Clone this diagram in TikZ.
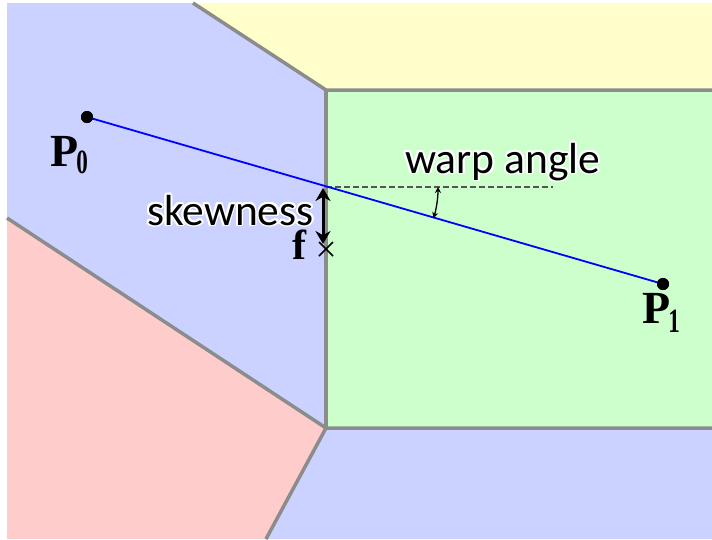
\documentclass[tikz,border=0pt]{standalone}
\usepackage{fontspec}
\setmainfont{Liberation Serif}
\newfontfamily\calib{Carlito}
\usepackage{contour}
\contourlength{1.8pt}
\usetikzlibrary{arrows.meta,calc}
\definecolor{cellblue}{RGB}{203,210,255}
\definecolor{cellyellow}{RGB}{255,255,204}
\definecolor{cellgreen}{RGB}{204,255,204}
\definecolor{cellpink}{RGB}{255,204,204}
\definecolor{edgegray}{RGB}{140,140,140}
\definecolor{dashgray}{RGB}{85,85,85}
\tikzset{
  celledge/.style={draw=edgegray,line width=3.5pt,line join=round},
  dotnode/.style={circle,fill=black,inner sep=0pt,minimum size=12pt},
  seg/.style={blue,line width=1.8pt},
  ptlabel/.style={inner sep=0pt,anchor=base west,font=\fontsize{46}{46}\selectfont\bfseries},
  sanslabel/.style={inner sep=0pt,anchor=base west,font=\calib\fontsize{43.5}{43.5}\selectfont},
  refline/.style={draw=dashgray,line width=1.6pt,dash pattern=on 6pt off 3pt},
  skewarrow/.style={line width=3pt,{Stealth[length=13pt,width=15pt]}-{Stealth[length=13pt,width=15pt]}},
  warparrow/.style={line width=1.3pt,{Stealth[length=6pt,width=6pt]}-{Stealth[length=6pt,width=6pt]}}
}
\begin{document}
\begin{tikzpicture}[x=1pt,y=-1pt]
\useasboundingbox (0,0) rectangle (712,539);
\fill[white] (0,0) rectangle (712,539);
% cell vertices
\coordinate (tl) at (7,3);
\coordinate (t) at (193,3);
\coordinate (tr) at (712,3);
\coordinate (a) at (326,90);
\coordinate (r1) at (712,90);
\coordinate (b) at (326,428);
\coordinate (r2) at (712,428);
\coordinate (l1) at (7,218);
\coordinate (bl) at (7,539);
\coordinate (bb) at (266,539);
\coordinate (br) at (712,539);
% cells
\fill[cellblue] (tl) -- (t) -- (a) -- (b) -- (l1) -- cycle;
\fill[cellyellow] (t) -- (tr) -- (r1) -- (a) -- cycle;
\fill[cellgreen] (a) -- (r1) -- (r2) -- (b) -- cycle;
\fill[cellpink] (l1) -- (b) -- (bb) -- (bl) -- cycle;
\fill[cellblue] (b) -- (r2) -- (br) -- (bb) -- cycle;
% edges
\draw[celledge] (t) -- (a) -- (r1);
\draw[celledge] (a) -- (b);
\draw[celledge] (l1) -- (b) -- (r2);
\draw[celledge] (b) -- (bb);
% reference dashed line
\coordinate (fi) at (326,187);
\coordinate (dashend) at (553,187);
\draw[refline] (fi) -- (dashend);
% segment P0-P1
\node[dotnode] (p0) at (87,117) {};
\node[dotnode] (p1) at (663,284) {};
\draw[seg] (p0.center) -- (p1.center);
\node[dotnode] at (87,117) {};
\node[dotnode] at (663,284) {};
% labels P0, P1
\node[ptlabel] (lp0) at (50,166) {P\kern-2pt\raisebox{-7pt}{\scalebox{0.68}[1]{\fontsize{34}{34}\selectfont 0}}};
\node[ptlabel] (lp1) at (642,323) {P\kern-2pt\raisebox{-9pt}{\scalebox{0.68}[1]{\fontsize{34}{34}\selectfont 1}}};
% face centre f
\coordinate (fc) at (326,249);
\draw[line width=1.6pt] ($(fc)+(-7,-7)$) -- ($(fc)+(7,7)$);
\draw[line width=1.6pt] ($(fc)+(-7,7)$) -- ($(fc)+(7,-7)$);
\node[ptlabel,font=\fontsize{42}{42}\selectfont\bfseries] (lf) at (292,259) {f};
% skewness
\coordinate (sktop) at (323,188);
\coordinate (skbot) at (323,244);
\draw[skewarrow] (sktop) -- (skbot);
\node[sanslabel] (lsk) at (147,225) {\contour{white}{skewness}};
% warp angle
\draw[warparrow] (438,187) arc[start angle=0,end angle=16.17,radius=112];
\node[sanslabel] (lwa) at (405,173) {\contour{white}{warp angle}};
\end{tikzpicture}
\end{document}
